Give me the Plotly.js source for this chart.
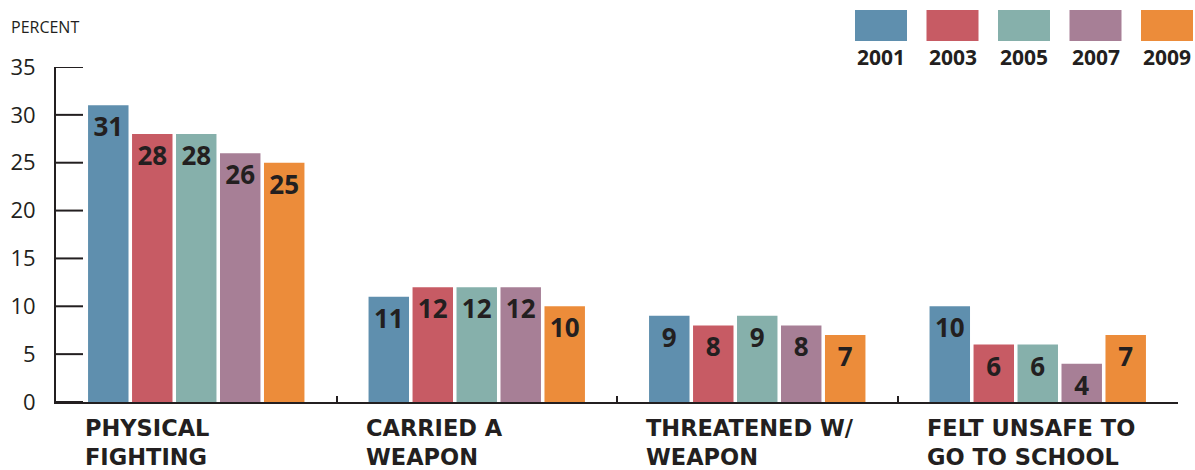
<!DOCTYPE html>
<html>
<head>
<meta charset="utf-8">
<script src="https://cdn.plot.ly/plotly-3.0.1.min.js"></script>
<style>
  html, body { margin: 0; padding: 0; background: #fff; }
  #chart { width: 1195px; height: 470px; }
</style>
</head>
<body>
<div id="chart"></div>
<script>
const categories = ["PHYSICAL<br>FIGHTING", "CARRIED A<br>WEAPON", "THREATENED W/<br>WEAPON", "FELT UNSAFE TO<br>GO TO SCHOOL"];
const years = ["2001", "2003", "2005", "2007", "2009"];
const v2001 = [31, 11, 9, 10];
const v2003 = [28, 12, 8, 6];
const v2005 = [28, 12, 9, 6];
const v2007 = [26, 12, 8, 4];
const v2009 = [25, 10, 7, 7];
const yTicks = [0, 5, 10, 15, 20, 25, 30, 35];

const seriesValues = [v2001, v2003, v2005, v2007, v2009];
const colors = ["#5f8fae", "#c75b64", "#86b0ab", "#a77f96", "#ec8c3a"];
const ink = "#231f20";
const fam = "'Open Sans', 'Noto Sans', sans-serif";
const famWide = "'DejaVu Sans', 'Open Sans', sans-serif";
const catIdx = categories.map((c, i) => i);

const traces = seriesValues.map((vals, k) => ({
  type: "bar",
  name: years[k],
  x: catIdx,
  y: vals,
  text: vals.map(String),
  textposition: "inside",
  insidetextanchor: "end",
  textangle: 0,
  constraintext: "none",
  cliponaxis: false,
  textfont: { family: fam, size: 26, color: ink, weight: 700 },
  marker: { color: colors[k], line: { width: 0 } },
  hoverinfo: "skip",
  showlegend: false
}));

// y-axis tick marks pointing into the plot, built from yTicks
const tickX = [], tickY = [];
yTicks.forEach(v => { tickX.push(-0.5, -0.5 + 27 / 280.5, null); tickY.push(v, v, null); });
traces.push({
  type: "scatter", mode: "lines", x: tickX, y: tickY,
  line: { color: ink, width: 2 }, hoverinfo: "skip", showlegend: false,
  cliponaxis: false
});

const bargap = 0.216;
const annotations = categories.map((c, i) => ({
  text: c,
  xref: "x", yref: "y",
  x: i - 0.5 + bargap / 2,
  y: 0,
  xanchor: "left", yanchor: "top",
  align: "left",
  xshift: -3,
  yshift: -11,
  showarrow: false,
  font: { family: famWide, size: 22.5, color: ink, weight: 700 }
}));
annotations.push({
  text: "PERCENT",
  xref: "paper", yref: "paper",
  x: -0.042, y: 1.119,
  xanchor: "left", yanchor: "middle",
  showarrow: false,
  font: { family: fam, size: 16, color: ink }
});

const shapes = [];
const legLeft = 855, legStep = 71.5, legW = 52;
years.forEach((yr, k) => {
  const x0 = legLeft + k * legStep;
  shapes.push({
    type: "rect", xref: "paper", yref: "paper",
    x0: (x0 - 56) / 1122, x1: (x0 + legW - 56) / 1122,
    y0: (402 - 41) / 335, y1: (402 - 10) / 335,
    fillcolor: colors[k], line: { width: 0 }
  });
  annotations.push({
    text: yr, xref: "paper", yref: "paper",
    x: (x0 + legW / 2 - 56) / 1122, y: (402 - 57.5) / 335,
    xanchor: "center", yanchor: "middle",
    showarrow: false,
    font: { family: fam, size: 21, color: ink, weight: 700 }
  });
});

const layout = {
  width: 1195, height: 470,
  margin: { l: 56, r: 17, t: 67, b: 68 },
  paper_bgcolor: "#fff", plot_bgcolor: "#fff",
  barmode: "group",
  bargap: bargap,
  bargroupgap: 0.08,
  hovermode: false,
  showlegend: false,
  xaxis: {
    type: "linear",
    range: [-0.5, 3.5],
    tickvals: [-0.5, 0.5, 1.5, 2.5, 3.5],
    showticklabels: false,
    ticks: "inside", ticklen: 6, tickwidth: 2, tickcolor: ink,
    showline: true, linecolor: ink, linewidth: 2,
    showgrid: false, zeroline: false, fixedrange: true
  },
  yaxis: {
    range: [0, 35],
    tickvals: yTicks,
    ticktext: yTicks.map(String),
    ticks: "",
    ticklabelstandoff: 14,
    showline: true, linecolor: ink, linewidth: 2,
    showgrid: false, zeroline: false, fixedrange: true,
    tickfont: { family: fam, size: 22, color: ink }
  },
  annotations: annotations,
  shapes: shapes
};

Plotly.newPlot("chart", traces, layout, { displayModeBar: false, staticPlot: true });
</script>
</body>
</html>
